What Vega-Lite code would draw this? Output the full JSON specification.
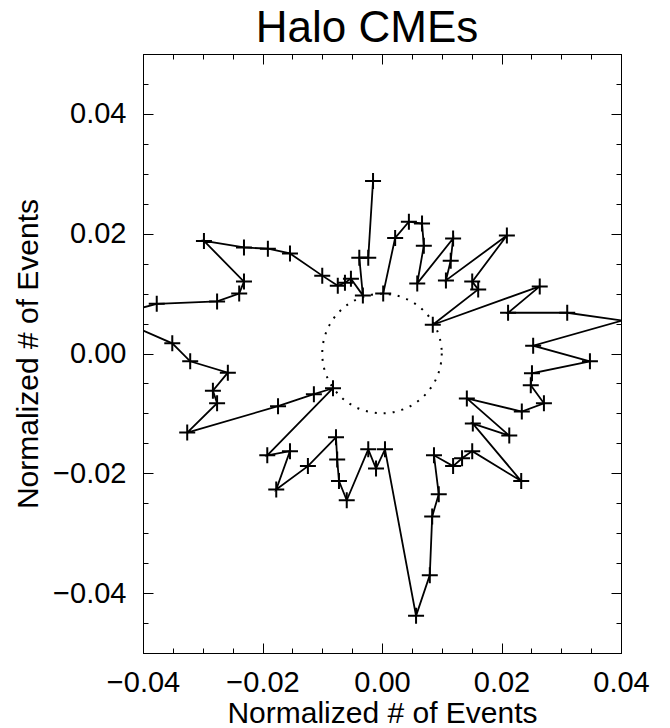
{
  "$schema": "https://vega.github.io/schema/vega-lite/v6.json",
  "autosize": {"type": "none"},
  "padding": {"left": 143, "top": 54, "right": 49, "bottom": 75},
  "width": 478,
  "height": 599,
  "background": "white",
  "title": {"text": "Halo CMEs", "fontSize": 44, "font": "Liberation Sans", "fontWeight": "normal", "color": "black", "anchor": "middle", "baseline": "alphabetic", "offset": 12, "dy": 44, "dx": -15},
  "config": {
    "view": {"stroke": null},
    "axis": {"domainColor": "black", "tickColor": "black", "labelColor": "black", "titleColor": "black", "labelFont": "Liberation Sans", "titleFont": "Liberation Sans", "labelFontSize": 29, "titleFontSize": 30, "titleFontWeight": "normal", "grid": false, "domainWidth": 1, "tickWidth": 1, "labelFlush": false, "labelOverlap": false}
  },
  "datasets": {
    "curve": [
      {"i": 1, "x": 0.0002, "y": 0.0100},
      {"i": 2, "x": 0.0022, "y": 0.0193},
      {"i": 3, "x": 0.0045, "y": 0.0220},
      {"i": 4, "x": 0.0067, "y": 0.0217},
      {"i": 5, "x": 0.0070, "y": 0.0180},
      {"i": 6, "x": 0.0059, "y": 0.0117},
      {"i": 7, "x": 0.0119, "y": 0.0192},
      {"i": 8, "x": 0.0115, "y": 0.0155},
      {"i": 9, "x": 0.0107, "y": 0.0122},
      {"i": 10, "x": 0.0209, "y": 0.0197},
      {"i": 11, "x": 0.0151, "y": 0.0120},
      {"i": 12, "x": 0.0161, "y": 0.0107},
      {"i": 13, "x": 0.0085, "y": 0.0048},
      {"i": 14, "x": 0.0264, "y": 0.0112},
      {"i": 15, "x": 0.0211, "y": 0.0068},
      {"i": 16, "x": 0.0310, "y": 0.0068},
      {"i": 17, "x": 0.0402, "y": 0.0055},
      {"i": 18, "x": 0.0253, "y": 0.0013},
      {"i": 19, "x": 0.0348, "y": -0.0013},
      {"i": 20, "x": 0.0251, "y": -0.0033},
      {"i": 21, "x": 0.0249, "y": -0.0053},
      {"i": 22, "x": 0.0271, "y": -0.0083},
      {"i": 23, "x": 0.0234, "y": -0.0097},
      {"i": 24, "x": 0.0142, "y": -0.0075},
      {"i": 25, "x": 0.0213, "y": -0.0137},
      {"i": 26, "x": 0.0152, "y": -0.0117},
      {"i": 27, "x": 0.0233, "y": -0.0213},
      {"i": 28, "x": 0.0151, "y": -0.0163},
      {"i": 29, "x": 0.0134, "y": -0.0175},
      {"i": 30, "x": 0.0119, "y": -0.0188},
      {"i": 31, "x": 0.0087, "y": -0.0170},
      {"i": 32, "x": 0.0095, "y": -0.0235},
      {"i": 33, "x": 0.0084, "y": -0.0272},
      {"i": 34, "x": 0.0080, "y": -0.0370},
      {"i": 35, "x": 0.0057, "y": -0.0438},
      {"i": 36, "x": 0.0005, "y": -0.0160},
      {"i": 37, "x": -0.0010, "y": -0.0192},
      {"i": 38, "x": -0.0023, "y": -0.0160},
      {"i": 39, "x": -0.0059, "y": -0.0245},
      {"i": 40, "x": -0.0072, "y": -0.0213},
      {"i": 41, "x": -0.0075, "y": -0.0177},
      {"i": 42, "x": -0.0077, "y": -0.0140},
      {"i": 43, "x": -0.0124, "y": -0.0188},
      {"i": 44, "x": -0.0177, "y": -0.0227},
      {"i": 45, "x": -0.0154, "y": -0.0163},
      {"i": 46, "x": -0.0192, "y": -0.0170},
      {"i": 47, "x": -0.0082, "y": -0.0058},
      {"i": 48, "x": -0.0114, "y": -0.0068},
      {"i": 49, "x": -0.0174, "y": -0.0088},
      {"i": 50, "x": -0.0326, "y": -0.0132},
      {"i": 51, "x": -0.0276, "y": -0.0083},
      {"i": 52, "x": -0.0283, "y": -0.0062},
      {"i": 53, "x": -0.0258, "y": -0.0032},
      {"i": 54, "x": -0.0321, "y": -0.0013},
      {"i": 55, "x": -0.0351, "y": 0.0017},
      {"i": 56, "x": -0.0454, "y": 0.0062},
      {"i": 57, "x": -0.0377, "y": 0.0083},
      {"i": 58, "x": -0.0276, "y": 0.0087},
      {"i": 59, "x": -0.0239, "y": 0.0100},
      {"i": 60, "x": -0.0231, "y": 0.0120},
      {"i": 61, "x": -0.0298, "y": 0.0188},
      {"i": 62, "x": -0.0231, "y": 0.0177},
      {"i": 63, "x": -0.0191, "y": 0.0175},
      {"i": 64, "x": -0.0154, "y": 0.0167},
      {"i": 65, "x": -0.0100, "y": 0.0130},
      {"i": 66, "x": -0.0074, "y": 0.0113},
      {"i": 67, "x": -0.0062, "y": 0.0118},
      {"i": 68, "x": -0.0052, "y": 0.0125},
      {"i": 69, "x": -0.0032, "y": 0.0097},
      {"i": 70, "x": -0.0038, "y": 0.0160},
      {"i": 71, "x": -0.0023, "y": 0.0160},
      {"i": 72, "x": -0.0015, "y": 0.0288}
    ],
    "center": [{"cx": 0, "cy": 0}]
  },
  "resolve": {"axis": {"x": "independent", "y": "independent"}},
  "layer": [
    {
      "data": {"name": "curve"},
      "mark": {"type": "line", "clip": true, "color": "black", "strokeWidth": 1.8},
      "encoding": {
        "x": {"field": "x", "type": "quantitative", "scale": {"domain": [-0.04, 0.04], "nice": false, "zero": false},
          "axis": {"orient": "bottom", "values": [-0.04, -0.02, 0, 0.02, 0.04], "format": ".2f", "tickSize": -10, "labelPadding": 25, "title": "Normalized # of Events", "titleBaseline": "alphabetic", "titleY": 69, "titleX": 239}},
        "y": {"field": "y", "type": "quantitative", "scale": {"domain": [-0.05, 0.05], "nice": false, "zero": false},
          "axis": {"orient": "left", "values": [-0.04, -0.02, 0, 0.02, 0.04], "format": ".2f", "tickSize": -10, "labelPadding": 27, "title": "Normalized # of Events", "titleBaseline": "alphabetic", "titleX": -106, "titleY": 299.5, "titleAngle": -90}},
        "order": {"field": "i", "type": "quantitative"}
      }
    },
    {
      "data": {"name": "curve"},
      "transform": [{"filter": "abs(datum.x) <= 0.04"}],
      "mark": {"type": "point", "shape": "M-1,0L1,0M0,-1L0,1", "filled": false, "size": 256, "stroke": "black", "strokeWidth": 2, "opacity": 1},
      "encoding": {
        "x": {"field": "x", "type": "quantitative", "scale": {"domain": [-0.04, 0.04], "nice": false, "zero": false},
          "axis": {"orient": "bottom", "values": [-0.035, -0.03, -0.025, -0.015, -0.01, -0.005, 0.005, 0.01, 0.015, 0.025, 0.03, 0.035], "tickSize": -5, "labels": false, "title": null}},
        "y": {"field": "y", "type": "quantitative", "scale": {"domain": [-0.05, 0.05], "nice": false, "zero": false},
          "axis": {"orient": "left", "values": [-0.045, -0.035, -0.03, -0.025, -0.015, -0.01, -0.005, 0.005, 0.01, 0.015, 0.025, 0.03, 0.035, 0.045], "tickSize": -5, "labels": false, "title": null}}
      }
    },
    {
      "data": {"name": "center"},
      "mark": {"type": "point", "shape": "circle", "filled": false, "size": 14280, "stroke": "black", "strokeWidth": 2, "strokeDash": [2, 7], "opacity": 1},
      "encoding": {
        "x": {"field": "cx", "type": "quantitative", "scale": {"domain": [-0.04, 0.04], "nice": false, "zero": false},
          "axis": {"orient": "top", "values": [-0.04, -0.02, 0, 0.02, 0.04], "tickSize": -10, "labels": false, "title": null}},
        "y": {"field": "cy", "type": "quantitative", "scale": {"domain": [-0.05, 0.05], "nice": false, "zero": false},
          "axis": {"orient": "right", "values": [-0.04, -0.02, 0, 0.02, 0.04], "tickSize": -10, "labels": false, "title": null}}
      }
    },
    {
      "data": {"name": "center"},
      "mark": {"type": "point", "opacity": 0},
      "encoding": {
        "x": {"field": "cx", "type": "quantitative", "scale": {"domain": [-0.04, 0.04], "nice": false, "zero": false},
          "axis": {"orient": "top", "values": [-0.035, -0.03, -0.025, -0.015, -0.01, -0.005, 0.005, 0.01, 0.015, 0.025, 0.03, 0.035], "tickSize": -5, "labels": false, "title": null}},
        "y": {"field": "cy", "type": "quantitative", "scale": {"domain": [-0.05, 0.05], "nice": false, "zero": false},
          "axis": {"orient": "right", "values": [-0.045, -0.035, -0.03, -0.025, -0.015, -0.01, -0.005, 0.005, 0.01, 0.015, 0.025, 0.03, 0.035, 0.045], "tickSize": -5, "labels": false, "title": null}}
      }
    }
  ]
}
